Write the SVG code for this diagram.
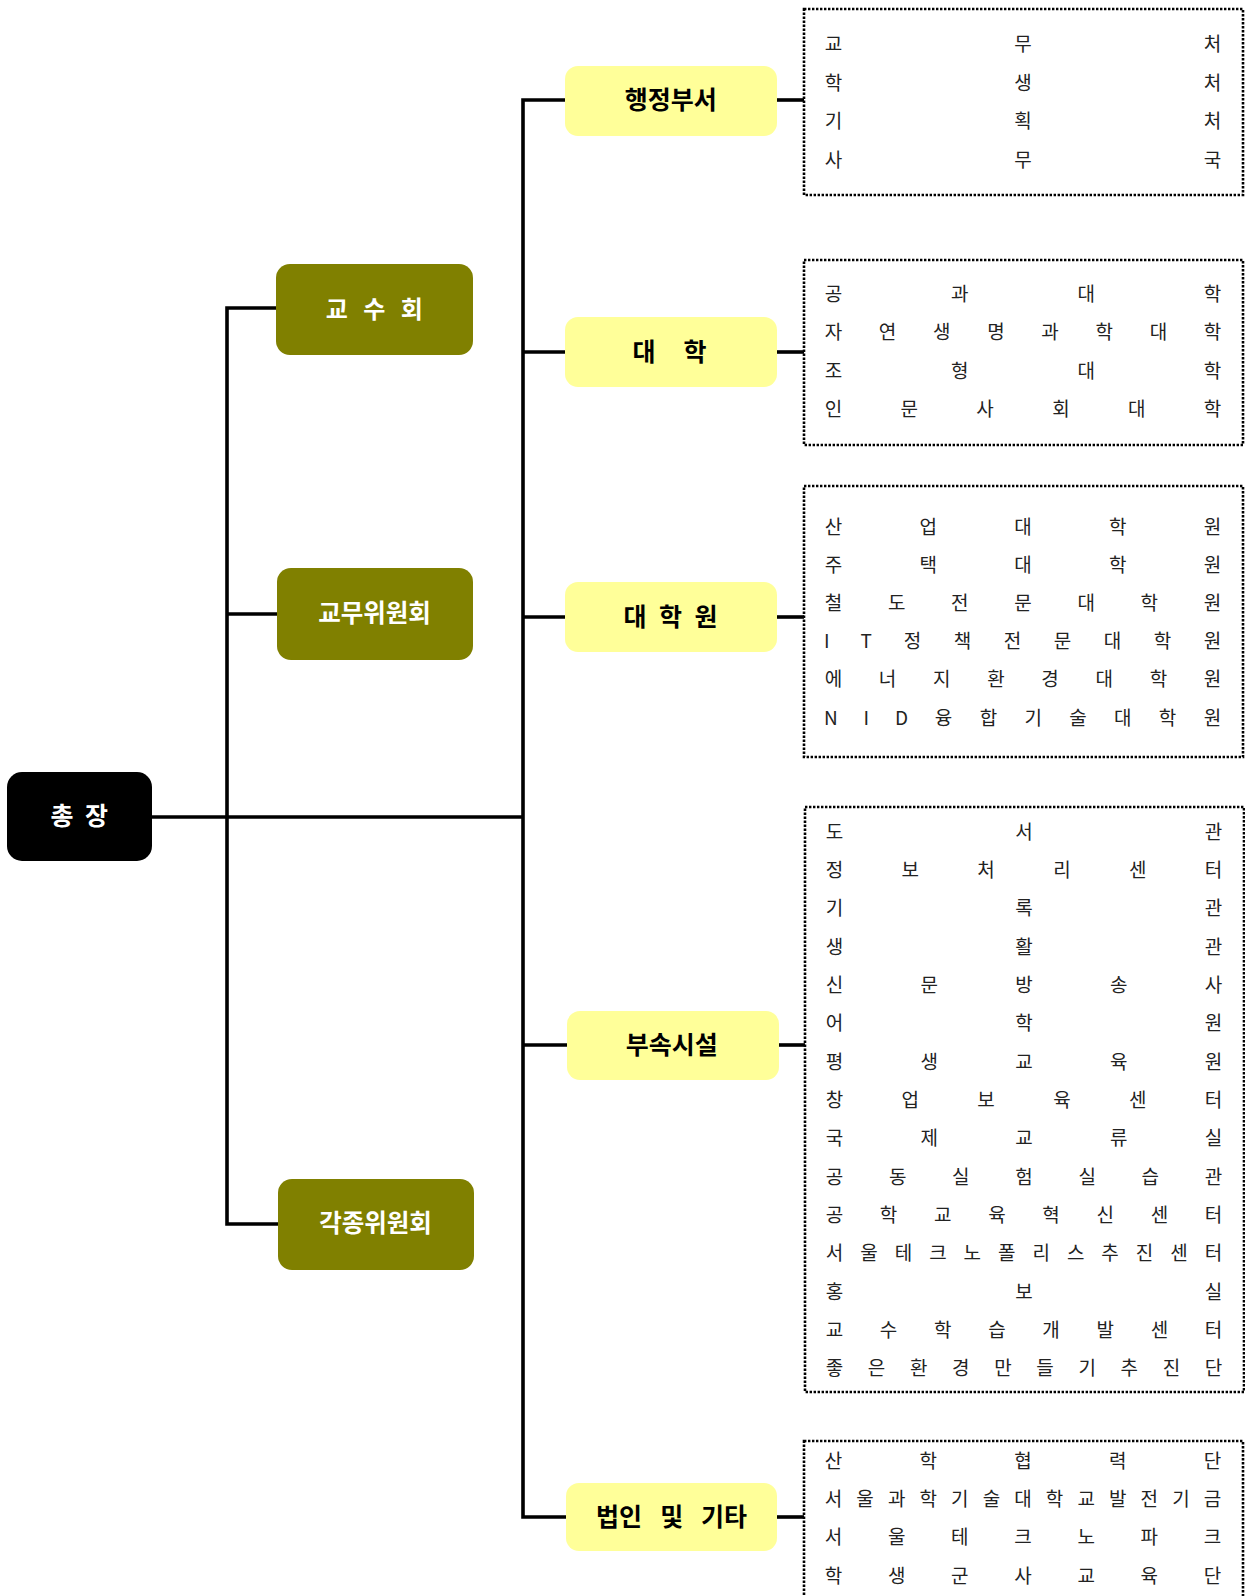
<svg xmlns="http://www.w3.org/2000/svg" width="1245" height="1596" viewBox="0 0 1245 1596">
<style>
.bg{fill:#ffffff}
.top{fill:#000000}
.olive{fill:#808000}
.yel{fill:#FFFF99}
.box{fill:none;stroke:#000;stroke-width:2.6;stroke-dasharray:2.4 1.6}
.ln{fill:none;stroke:#000;stroke-width:3.6;stroke-linejoin:miter;stroke-linecap:butt}
.wt{font-family:"Noto Sans CJK KR","Noto Sans",sans-serif;font-weight:bold;fill:#fff;dominant-baseline:central;text-anchor:middle}
.bt{font-family:"Noto Sans CJK KR","Noto Sans",sans-serif;font-weight:bold;fill:#000;font-size:25px;dominant-baseline:central;text-anchor:middle}
.it{font-family:"Noto Sans CJK KR","Noto Sans",sans-serif;font-weight:normal;fill:#222;font-size:19px;dominant-baseline:central;text-anchor:middle}
</style>
<rect class="bg" x="0" y="0" width="1245" height="1596"/>
<g id="connectors">
<path class="ln" d="M152,817 H523"/>
<path class="ln" d="M276,308 H227 V1224 H278"/>
<path class="ln" d="M227,614 H277"/>
<path class="ln" d="M565,100 H523 V1517 H566"/>
<path class="ln" d="M523,352 H565"/>
<path class="ln" d="M523,617 H565"/>
<path class="ln" d="M523,1045 H567"/>
<path class="ln" d="M777,100 H804"/>
<path class="ln" d="M777,352 H804"/>
<path class="ln" d="M777,617 H804"/>
<path class="ln" d="M779,1045 H805"/>
<path class="ln" d="M777,1517 H804"/>
</g>
<g id="president">
<rect class="top" x="7" y="772" width="145" height="89" rx="15"/>
<text class="wt" font-size="25" x="62 96.5" y="814">총장</text>
</g>
<g id="faculty-council">
<rect class="olive" x="276" y="264" width="197" height="91" rx="14"/>
<text class="wt" font-size="24" x="336.7 374.3 411.7" y="307">교수회</text>
</g>
<g id="academic-committee">
<rect class="olive" x="277" y="568" width="196" height="92" rx="14"/>
<text class="wt" font-size="24.5" x="374.5" y="611.5">교무위원회</text>
</g>
<g id="various-committees">
<rect class="olive" x="278" y="1179" width="196" height="91" rx="14"/>
<text class="wt" font-size="24.5" x="375.5" y="1221">각종위원회</text>
</g>
<g id="admin">
<rect class="yel" x="565" y="66" width="212" height="70" rx="13"/>
<text class="bt" x="670.7" y="98">행정부서</text>
</g>
<g id="college">
<rect class="yel" x="565" y="317" width="212" height="70" rx="13"/>
<text class="bt" x="644 695" y="350">대학</text>
</g>
<g id="graduate">
<rect class="yel" x="565" y="582" width="212" height="70" rx="13"/>
<text class="bt" x="635 670.5 706" y="614.5">대학원</text>
</g>
<g id="facilities">
<rect class="yel" x="567" y="1011" width="212" height="69" rx="13"/>
<text class="bt" x="671.7" y="1042.5">부속시설</text>
</g>
<g id="corporation">
<rect class="yel" x="566" y="1483" width="211" height="68" rx="13"/>
<text class="bt" x="596" y="1514.5" style="text-anchor:start">법인</text>
<text class="bt" x="671.7" y="1514.5">및</text>
<text class="bt" x="747" y="1514.5" style="text-anchor:end">기타</text>
</g>
<g id="admin-list">
<rect class="box" x="804" y="9" width="439" height="186"/>
<text class="it" x="833.5 1023 1212.5" y="42.5">교무처</text>
<text class="it" x="833.5 1023 1212.5" y="81">학생처</text>
<text class="it" x="833.5 1023 1212.5" y="119.5">기획처</text>
<text class="it" x="833.5 1023 1212.5" y="158">사무국</text>
</g>
<g id="college-list">
<rect class="box" x="804" y="260" width="439" height="185"/>
<text class="it" x="833.5 959.8 1086.2 1212.5" y="292">공과대학</text>
<text class="it" x="833.5 887.6 941.8 995.9 1050.1 1104.2 1158.4 1212.5" y="330.5">자연생명과학대학</text>
<text class="it" x="833.5 959.8 1086.2 1212.5" y="369">조형대학</text>
<text class="it" x="833.5 909.3 985.1 1060.9 1136.7 1212.5" y="407">인문사회대학</text>
</g>
<g id="graduate-list">
<rect class="box" x="804" y="486" width="439" height="271"/>
<text class="it" x="833.5 928.25 1023 1117.75 1212.5" y="525">산업대학원</text>
<text class="it" x="833.5 928.25 1023 1117.75 1212.5" y="563">주택대학원</text>
<text class="it" x="833.5 896.7 959.8 1023 1086.2 1149.3 1212.5" y="601">철도전문대학원</text>
<text class="it" x="826.7 866.1 912.4 962.4 1012.4 1062.4 1112.4 1162.4 1212.4" y="639">IT정책전문대학원</text>
<text class="it" x="833.5 887.6 941.8 995.9 1050.1 1104.2 1158.4 1212.5" y="677.5">에너지환경대학원</text>
<text class="it" x="830.9 866.2 901.5 943.6 988.4 1033.2 1078 1122.8 1167.6 1212.4" y="716">NID융합기술대학원</text>
</g>
<g id="facilities-list">
<rect class="box" x="805" y="807" width="439" height="585"/>
<text class="it" x="834.5 1024 1213.5" y="830">도서관</text>
<text class="it" x="834.5 910.3 986.1 1061.9 1137.7 1213.5" y="868.4">정보처리센터</text>
<text class="it" x="834.5 1024 1213.5" y="906.7">기록관</text>
<text class="it" x="834.5 1024 1213.5" y="945.1">생활관</text>
<text class="it" x="834.5 929.25 1024 1118.75 1213.5" y="983.4">신문방송사</text>
<text class="it" x="834.5 1024 1213.5" y="1021.8">어학원</text>
<text class="it" x="834.5 929.25 1024 1118.75 1213.5" y="1060.1">평생교육원</text>
<text class="it" x="834.5 910.3 986.1 1061.9 1137.7 1213.5" y="1098.5">창업보육센터</text>
<text class="it" x="834.5 929.25 1024 1118.75 1213.5" y="1136.8">국제교류실</text>
<text class="it" x="834.5 897.7 960.8 1024 1087.2 1150.3 1213.5" y="1175.2">공동실험실습관</text>
<text class="it" x="834.5 888.6 942.8 996.9 1051.1 1105.2 1159.4 1213.5" y="1213.5">공학교육혁신센터</text>
<text class="it" x="834.5 869 903.4 937.9 972.3 1006.8 1041.2 1075.7 1110.1 1144.6 1179 1213.5" y="1251.9">서울테크노폴리스추진센터</text>
<text class="it" x="834.5 1024 1213.5" y="1290.2">홍보실</text>
<text class="it" x="834.5 888.6 942.8 996.9 1051.1 1105.2 1159.4 1213.5" y="1328.6">교수학습개발센터</text>
<text class="it" x="834.5 876.6 918.7 960.8 1003 1045.1 1087.2 1129.3 1171.4 1213.5" y="1366.9">좋은환경만들기추진단</text>
</g>
<g id="corporation-list">
<rect class="box" x="804" y="1441" width="439" height="200"/>
<text class="it" x="833.5 928.25 1023 1117.75 1212.5" y="1459.2">산학협력단</text>
<text class="it" x="833.5 865.1 896.7 928.25 959.8 991.4 1023 1054.6 1086.2 1117.75 1149.3 1180.9 1212.5" y="1497.5">서울과학기술대학교발전기금</text>
<text class="it" x="833.5 896.7 959.8 1023 1086.2 1149.3 1212.5" y="1535.8">서울테크노파크</text>
<text class="it" x="833.5 896.7 959.8 1023 1086.2 1149.3 1212.5" y="1574.2">학생군사교육단</text>
</g>
</svg>
